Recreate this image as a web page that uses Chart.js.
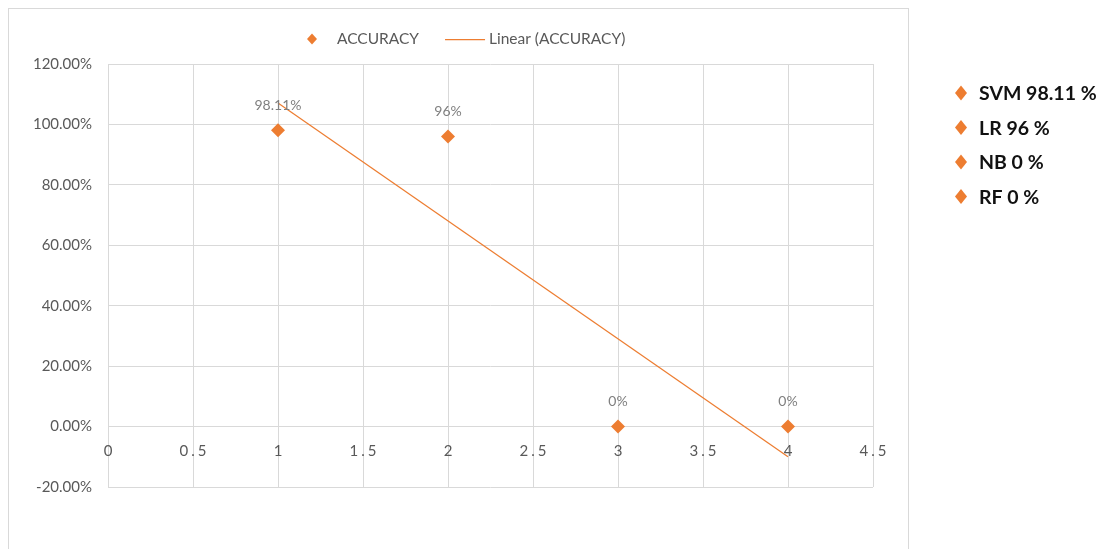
<!DOCTYPE html>
<html>
<head>
<meta charset="utf-8">
<script src="https://cdn.jsdelivr.net/npm/chart.js@4.4.1/dist/chart.umd.min.js"></script>
<style>
  html, body { margin: 0; padding: 0; background: #ffffff; }
  #wrap { position: relative; width: 1109px; height: 549px; }
</style>
</head>
<body>
<div id="wrap"><canvas id="chart" width="1109" height="549"></canvas></div>
<script>
// ---- data ----
const models = ['SVM', 'LR', 'NB', 'RF'];
const modelIndex = [1, 2, 3, 4];
const accuracy = [98.11, 96, 0, 0];          // percent
const seriesName = 'ACCURACY';
const trendName = 'Linear (ACCURACY)';
const xAxisRange = { min: 0, max: 4.5, step: 0.5 };
const yAxisRange = { min: -0.2, max: 1.2, step: 0.2 };

// ---- styling ----
const ORANGE = '#ED7D31';
const GRID = '#d9d9d9';
const TICK_TEXT = '#595959';
const LABEL_TEXT = '#7f7f7f';
const FONT = 'Lato, "Open Sans", "Liberation Sans", sans-serif';

// least-squares straight line through the accuracy points
function linearFit(xs, ys) {
  const n = xs.length;
  const mx = xs.reduce((a, b) => a + b, 0) / n;
  const my = ys.reduce((a, b) => a + b, 0) / n;
  let sxy = 0, sxx = 0;
  for (let i = 0; i < n; i++) {
    sxy += (xs[i] - mx) * (ys[i] - my);
    sxx += (xs[i] - mx) * (xs[i] - mx);
  }
  const slope = sxy / sxx;
  return { slope, intercept: my - slope * mx };
}

const points = modelIndex.map((x, i) => ({ x, y: accuracy[i] / 100 }));
const fit = linearFit(modelIndex, points.map(p => p.y));
const trendPoints = [modelIndex[0], modelIndex[modelIndex.length - 1]]
  .map(x => ({ x, y: fit.intercept + fit.slope * x }));

function diamond(ctx, x, y, hw, hh, color) {
  ctx.save();
  ctx.fillStyle = color;
  ctx.beginPath();
  ctx.moveTo(x, y - hh);
  ctx.lineTo(x + hw, y);
  ctx.lineTo(x, y + hh);
  ctx.lineTo(x - hw, y);
  ctx.closePath();
  ctx.fill();
  ctx.restore();
}

const decor = {
  id: 'decor',
  afterLayout(chart) {
    // x tick labels are drawn slightly letter-spaced
    const sx = chart.scales.x;
    if (sx && !sx._spaced) {
      const orig = sx.drawLabels.bind(sx);
      sx.drawLabels = function (area) {
        const c = this.ctx;
        const prev = c.letterSpacing;
        c.save();
        c.translate(1.5, 0);   // keep spaced labels centred on their ticks
        c.letterSpacing = '3px';
        orig(area);
        c.restore();
        c.letterSpacing = prev || '0px';
      };
      sx._spaced = true;
    }
  },
  beforeDraw(chart) {
    const ctx = chart.ctx;
    ctx.save();
    ctx.fillStyle = '#ffffff';
    ctx.fillRect(0, 0, chart.width, chart.height);
    ctx.strokeStyle = GRID;
    ctx.lineWidth = 1;
    ctx.strokeRect(8.5, 8.5, 900, 620);
    ctx.restore();
  },
  afterDatasetsDraw(chart) {
    // value labels above each marker
    const ctx = chart.ctx;
    const meta = chart.getDatasetMeta(0);
    ctx.save();
    ctx.font = '14px ' + FONT;
    ctx.fillStyle = LABEL_TEXT;
    ctx.textAlign = 'center';
    ctx.textBaseline = 'middle';
    meta.data.forEach((el, i) => {
      ctx.fillText(accuracy[i] + '%', el.x, el.y - 25);
    });
    ctx.restore();
  },
  afterDraw(chart) {
    const ctx = chart.ctx;
    ctx.save();
    // legend across the top
    const ly = 39;
    ctx.font = '15.5px ' + FONT;
    ctx.fillStyle = TICK_TEXT;
    ctx.textBaseline = 'middle';
    ctx.textAlign = 'left';
    let lx = 307;
    diamond(ctx, lx + 5, ly, 5, 5.5, ORANGE);
    ctx.fillText(seriesName, lx + 30, ly);
    lx += 30 + ctx.measureText(seriesName).width + 26;
    ctx.strokeStyle = ORANGE;
    ctx.lineWidth = 1.25;
    ctx.beginPath();
    ctx.moveTo(lx, ly + 0.5);
    ctx.lineTo(lx + 40, ly + 0.5);
    ctx.stroke();
    ctx.fillText(trendName, lx + 44, ly);

    // model list on the right
    ctx.font = 'bold 19.5px ' + FONT;
    ctx.fillStyle = '#111111';
    models.forEach((m, i) => {
      const y = 93 + i * 34.5;
      diamond(ctx, 961, y, 6, 7.5, ORANGE);
      ctx.fillText(m + ' ' + accuracy[i] + ' %', 979, y + 1);
    });
    ctx.restore();
  }
};

function build() {
  Chart.defaults.font.family = FONT;
  new Chart(document.getElementById('chart'), {
    type: 'scatter',
    data: {
      datasets: [
        {
          label: seriesName,
          data: points,
          pointStyle: 'rectRot',
          pointRadius: 7,
          pointHoverRadius: 7,
          backgroundColor: ORANGE,
          borderWidth: 0,
          showLine: false,
          order: 2
        },
        {
          label: trendName,
          data: trendPoints,
          showLine: true,
          pointRadius: 0,
          borderColor: ORANGE,
          borderWidth: 1.25,
          fill: false,
          order: 1
        }
      ]
    },
    options: {
      responsive: false,
      animation: false,
      events: [],
      layout: { padding: { left: 8, top: 64, right: 236, bottom: 62 } },
      plugins: { legend: { display: false }, tooltip: { enabled: false } },
      scales: {
        x: {
          type: 'linear',
          position: { y: 0 },
          min: xAxisRange.min,
          max: xAxisRange.max,
          grid: { color: GRID, lineWidth: 1, drawTicks: false },
          border: { color: GRID, width: 1 },
          ticks: {
            stepSize: xAxisRange.step,
            autoSkip: false,
            maxRotation: 0,
            padding: 16,
            color: TICK_TEXT,
            font: { size: 15 },
            callback: v => String(Math.round(v * 10) / 10)
          }
        },
        y: {
          type: 'linear',
          position: 'left',
          min: yAxisRange.min,
          max: yAxisRange.max,
          afterFit(scale) { scale.width = 100; },
          grid: { color: GRID, lineWidth: 1, drawTicks: false },
          border: { display: false },
          ticks: {
            stepSize: yAxisRange.step,
            padding: 16,
            color: TICK_TEXT,
            font: { size: 15 },
            callback: v => (Math.round(v * 1000) / 10).toFixed(2) + '%'
          }
        }
      }
    },
    plugins: [decor]
  });
}

const fontLoads = [
  document.fonts.load('15px Lato'),
  document.fonts.load('bold 19px Lato')
];
Promise.all(fontLoads).then(build, build);
</script>
</body>
</html>
